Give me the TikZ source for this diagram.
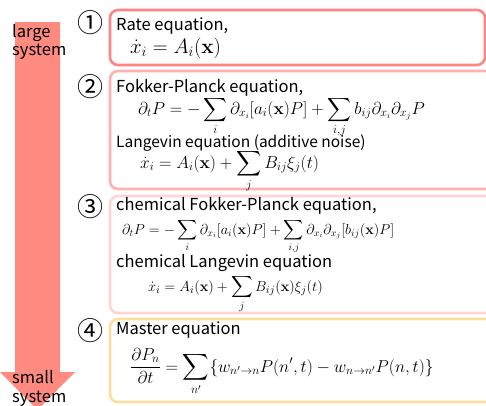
\documentclass[tikz,border=0pt]{standalone}
\usepackage[no-math]{fontspec}
\usepackage{amsmath,amssymb}
\setmainfont{Noto Sans CJK JP}
\usetikzlibrary{positioning}
\definecolor{arrowc}{HTML}{FF8A80}
\definecolor{boxA}{HTML}{FF8585}
\definecolor{boxB}{HTML}{FFB0B0}
\definecolor{boxC}{HTML}{FFD4D4}
\definecolor{boxD}{HTML}{FBDF9F}
\tikzset{
  panel/.style={rounded corners=8pt, line width=2.6pt},
  num/.style={font=\fontsize{26}{26}\selectfont, inner sep=0pt},
  head/.style={anchor=base west, inner sep=0pt, font=\fontsize{16.5}{18}\selectfont},
  eqn/.style={anchor=base west, inner sep=0pt},
  tag/.style={anchor=base west, inner sep=0pt, font=\fontsize{16.5}{18}\selectfont},
}
\newcommand{\eqsize}[1]{\fontsize{#1}{#1}\selectfont}

\begin{document}
\begin{tikzpicture}[x=1pt, y=-1pt]
  \useasboundingbox (0,0) rectangle (486,405);
  % big arrow, large -> small system
  \fill[arrowc] (15,22) -- (60,22) -- (60,372) -- (75,372) -- (37.5,410)
    -- (0,372) -- (15,372) -- cycle;
  \node[tag] (large) at (12,37) {large};
  \node[tag] (large2) at (12,55) {system};
  \node[tag] (small) at (12,383) {small};
  \node[tag] (small2) at (12,402) {system};
  % panels
  \draw[panel, boxA] (110,10) rectangle (485,65);
  \draw[panel, boxB] (110,71) rectangle (500,189);
  \draw[panel, boxC] (110,196) rectangle (500,313);
  \draw[panel, boxD] (110,319) rectangle (500,402);
  % 1: rate equation
  \node[num] (n1) at (90,23) {①};
  \node[head] (rate) at (116,30) {Rate equation,};
  \node[eqn, font=\eqsize{20.5}] (rateq) at (130,53) {$\dot{x}_i = A_i(\mathbf{x})$};
  % 2: Fokker-Planck / Langevin
  \node[num] (n2) at (90,87) {②};
  \node[head] (fp) at (116,92) {Fokker-Planck equation,};
  \node[eqn, font=\eqsize{16.5}] (fpeq) at (138,114)
    {$\displaystyle \partial_t P = -\sum_i \partial_{x_i}[a_i(\mathbf{x})P] + \sum_{i,j} b_{ij}\partial_{x_i}\partial_{x_j}P$};
  \node[head, font=\fontsize{15.5}{18}\selectfont] (lang) at (116,147) {Langevin equation (additive noise)};
  \node[eqn, font=\eqsize{17.5}] (langeq) at (140,168)
    {$\displaystyle \dot{x}_i = A_i(\mathbf{x}) + \sum_j B_{ij}\xi_j(t)$};
  % 3: chemical versions
  \node[num] (n3) at (90,207) {③};
  \node[head] (cfp) at (116,210) {chemical Fokker-Planck equation,};
  \node[eqn, font=\eqsize{13.9}] (cfpeq) at (122,234)
    {$\displaystyle \partial_t P = -\sum_i \partial_{x_i}[a_i(\mathbf{x})P] + \sum_{i,j} \partial_{x_i}\partial_{x_j}[b_{ij}(\mathbf{x})P]$};
  \node[head] (clang) at (116,267) {chemical Langevin equation};
  \node[eqn, font=\eqsize{15}] (clangeq) at (148,291)
    {$\displaystyle \dot{x}_i = A_i(\mathbf{x}) + \sum_j B_{ij}(\mathbf{x})\xi_j(t)$};
  % 4: master equation
  \node[num] (n4) at (90,331) {④};
  \node[head] (master) at (116,334) {Master equation};
  \node[eqn, font=\eqsize{18.4}] (mastereq) at (130,372)
    {$\displaystyle \frac{\partial P_n}{\partial t} = \sum_{n'}\{w_{n'\to n}P(n',t) - w_{n\to n'}P(n,t)\}$};
\end{tikzpicture}
\end{document}
